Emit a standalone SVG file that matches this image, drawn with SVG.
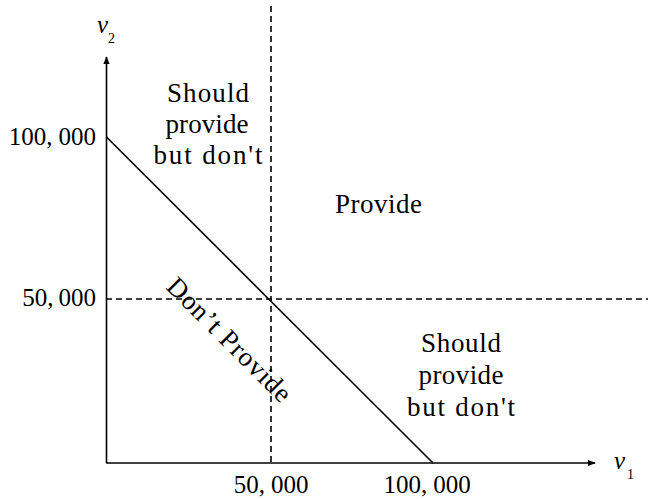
<svg xmlns="http://www.w3.org/2000/svg" width="648" height="499" viewBox="0 0 648 499">
<style>
text{font-family:"Liberation Serif","DejaVu Serif",serif;font-size:25px;fill:#000}
.w{font-size:27px}
.c{text-anchor:middle}
.e{text-anchor:end}
.ax{stroke:#000;stroke-width:1.6;fill:none}
.ds{stroke:#000;stroke-width:1.6;fill:none;stroke-dasharray:6 4}
.it{font-style:italic}
.sub{font-size:14px}
</style>
<defs>
<marker id="ah" viewBox="0 0 10 10" refX="9" refY="5" markerWidth="8" markerHeight="8" markerUnits="userSpaceOnUse" orient="auto">
<path d="M0,1 L10,5 L0,9 z" fill="#000"/>
</marker>
</defs>
<g id="connectors">
<line id="dash-v" class="ds" x1="271" y1="6" x2="271" y2="463"/>
<line id="dash-h" class="ds" x1="106" y1="299" x2="648" y2="299"/>
<line id="diagonal" class="ax" x1="106.5" y1="137" x2="433" y2="463"/>
<line id="y-axis" class="ax" x1="106.5" y1="463" x2="106.5" y2="57" marker-end="url(#ah)"/>
<line id="x-axis" class="ax" x1="106" y1="463" x2="595" y2="463" marker-end="url(#ah)"/>
</g>
<g id="axis-labels">
<text x="97" y="33" class="it">v</text><text x="108" y="43" class="sub">2</text>
<text x="614" y="469" class="it">v</text><text x="627" y="479" class="sub">1</text>
</g>
<g id="ticks">
<text x="96" y="145" class="e">100,<tspan dx="6">000</tspan></text>
<text x="96" y="306" class="e">50,<tspan dx="5">000</tspan></text>
<text x="271" y="493" class="c">50,<tspan dx="6">000</tspan></text>
<text x="427" y="493" class="c">100,<tspan dx="6">000</tspan></text>
</g>
<g id="region-upper-left">
<text x="208" y="102" class="c w" textLength="82" lengthAdjust="spacing">Should</text>
<text x="207" y="133" class="c w" textLength="83" lengthAdjust="spacing">provide</text>
<text x="208" y="164" class="c w" textLength="109" lengthAdjust="spacing">but don't</text>
</g>
<g id="region-provide">
<text x="378.5" y="213" class="c w" textLength="87" lengthAdjust="spacing">Provide</text>
</g>
<g id="region-lower-right">
<text x="461" y="352" class="c w" textLength="80" lengthAdjust="spacing">Should</text>
<text x="461" y="384" class="c w" textLength="85" lengthAdjust="spacing">provide</text>
<text x="461" y="416" class="c w" textLength="108" lengthAdjust="spacing">but don't</text>
</g>
<g id="region-dont-provide">
<text x="223" y="346" class="c w" transform="rotate(45 223 346)" textLength="164" lengthAdjust="spacing">Don’t Provide</text>
</g>
</svg>
